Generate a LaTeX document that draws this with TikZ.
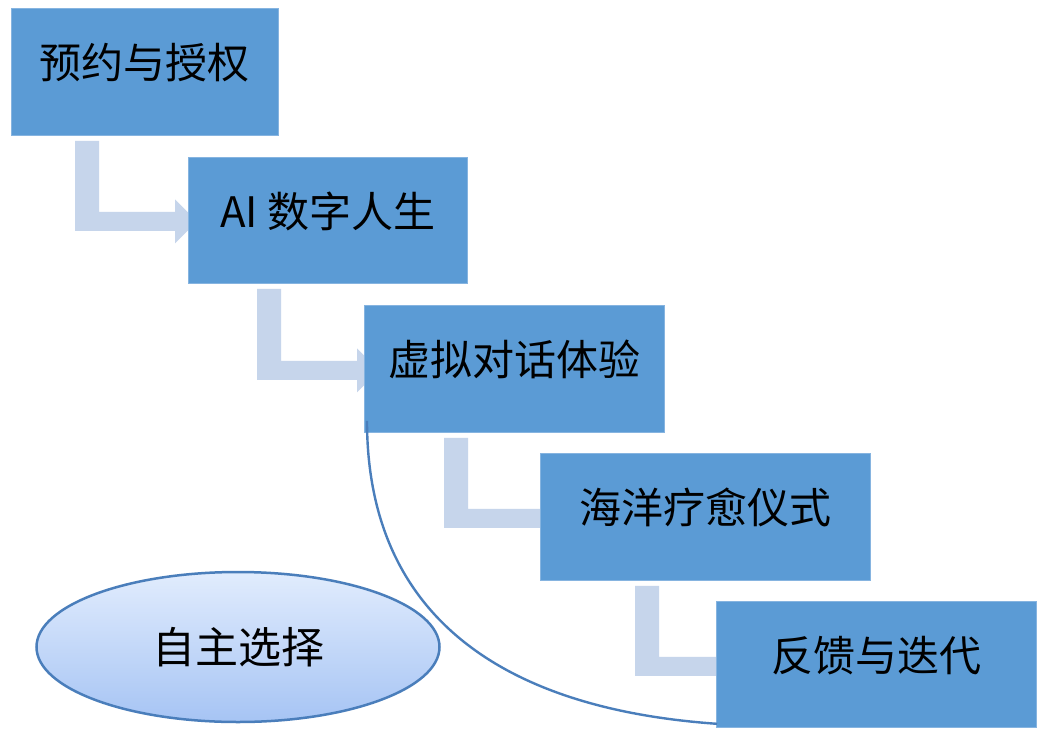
\documentclass[tikz,border=0pt]{standalone}
\usepackage{fontspec}
\setmainfont{Noto Sans CJK SC}
\usetikzlibrary{shapes.geometric,calc}
\pgfdeclarelayer{background}
\pgfsetlayers{background,main}
\definecolor{boxfill}{HTML}{5B9BD5}
\definecolor{boxline}{HTML}{86B4E0}
\definecolor{arrowfill}{HTML}{C6D5EB}
\definecolor{curveline}{HTML}{4A7EBB}
\definecolor{elltop}{HTML}{E1ECFD}
\definecolor{ellbot}{HTML}{A6C4F4}
\tikzset{
  stagebox/.style={draw=boxline, line width=0.8pt, fill=boxfill, anchor=north west,
    inner sep=0pt, text height=30pt, text depth=16pt,
    font=\fontsize{42}{50}\selectfont},
  bentfill/.style={fill=arrowfill},
  choice/.style={ellipse, draw=curveline, line width=2.5pt, top color=elltop, bottom color=ellbot,
    minimum width=403, minimum height=150, inner sep=0pt, font=\fontsize{43}{50}\selectfont},
  arc line/.style={draw=curveline, line width=2.4pt}
}
% #1 from node, #2 to node, #3 x-offset of vertical bar, #4 bar bottom above to.south, #5 head start before to.west
\newcommand{\bentarr}[5]{%
  \fill[bentfill] let \p1=($(#1.south west)+(#3,5)$), \p2=($(#2.south west)+(-#5,-#4)$) in
   (\x1,\y1) -- (\x1+24pt,\y1) -- (\x1+24pt,\y2+19pt) -- (\x2,\y2+19pt) -- (\x2,\y2+31.5pt)
   -- (\x2+22pt,\y2+9.5pt) -- (\x2,\y2-12.5pt) -- (\x2,\y2) -- (\x1,\y2) -- cycle;}
\begin{document}
\begin{tikzpicture}[x=1pt,y=-1pt]
\useasboundingbox (0,0) rectangle (1047,734);
\begin{pgfonlayer}{background}
\fill[white] (0,0) rectangle (1047,734);
\end{pgfonlayer}
% boxes
\path (11,8) node[stagebox, minimum width=267, minimum height=127] (b1) {预约与授权};
\path (188,157) node[stagebox, minimum width=279, minimum height=126] (b2) {AI 数字人生};
\path (364,305) node[stagebox, minimum width=300, minimum height=127] (b3) {虚拟对话体验};
\path (540,453) node[stagebox, minimum width=330, minimum height=127] (b4) {海洋疗愈仪式};
\path (716,601) node[stagebox, minimum width=320, minimum height=126] (b5) {反馈与迭代};
% bent arrows behind boxes
\begin{pgfonlayer}{background}
\bentarr{b1}{b2}{64}{53}{13}
\bentarr{b2}{b3}{69}{53}{7}
\bentarr{b3}{b4}{80}{53}{0}
\bentarr{b4}{b5}{95}{52}{0}
\end{pgfonlayer}
% curve
\coordinate (cs) at ($(b3.south west)+(3,-12)$);
\coordinate (ce) at ($(b5.south west)+(1,-4)$);
\draw[arc line] (cs) .. controls ($(cs)+(0,195)$) and ($(ce)+(-215,-15)$) .. (ce);
% ellipse
\node[choice] (ch) at (238,647) {自主选择};
\end{tikzpicture}
\end{document}
